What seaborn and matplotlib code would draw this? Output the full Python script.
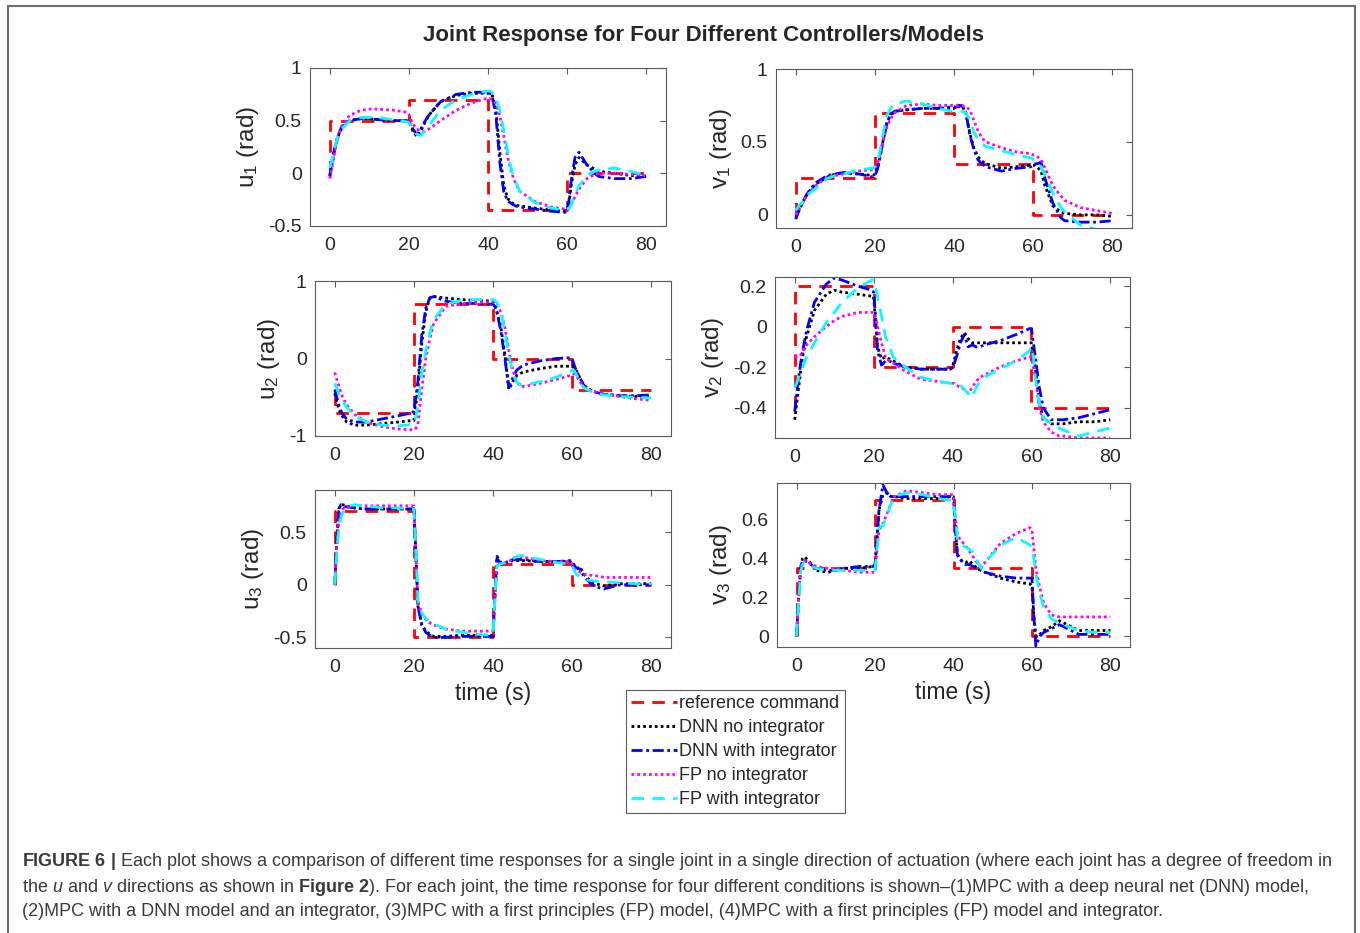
import numpy as np
import pandas as pd
import matplotlib
matplotlib.use("Agg")
import matplotlib.pyplot as plt
from matplotlib.lines import Line2D
import seaborn as sns

sns.set_style("white")
plt.rcParams['font.family'] = ['Liberation Sans', 'DejaVu Sans']
plt.rcParams['mathtext.fontset'] = 'custom'
plt.rcParams['mathtext.rm'] = 'Liberation Sans'
plt.rcParams['mathtext.it'] = 'Liberation Sans:italic'
plt.rcParams['mathtext.bf'] = 'Liberation Sans:bold'
plt.rcParams['axes.unicode_minus'] = False

# ---------------- data ----------------
T = [0, 0.5, 1, 1.5, 2, 3, 5, 8, 10, 12, 16, 19.5, 20, 20.5, 21, 22, 23, 24, 25, 28,
     32, 36, 39.5, 40, 40.5, 41, 42, 43, 44, 45, 46, 47, 48, 52, 56, 59.5, 60, 60.5,
     61, 62, 63, 65, 67, 68, 72, 76, 80]

ref_t = [0, 0, 20, 40, 60, 80]
u1_ref = [0.0, 0.5, 0.7, -0.35, 0.0, 0.0]
v1_ref = [0.0, 0.25, 0.7, 0.35, 0.0, 0.0]
u2_ref = [-0.45, -0.7, 0.7, 0.0, -0.4, -0.4]
v2_ref = [-0.4, 0.2, -0.2, 0.0, -0.4, -0.4]
u3_ref = [0.0, 0.7, -0.5, 0.2, 0.0, 0.0]
v3_ref = [0.0, 0.35, 0.7, 0.35, 0.0, 0.0]

u1_dnn = [-0.03, 0.08, 0.18, 0.27, 0.34, 0.43, 0.5, 0.52, 0.52, 0.51, 0.5, 0.5, 0.49, 0.45, 0.4, 0.35, 0.4, 0.48, 0.55, 0.68, 0.74, 0.76, 0.76, 0.76, 0.76, 0.75, 0.6, 0.2, -0.12, -0.24, -0.28, -0.3, -0.31, -0.33, -0.35, -0.36, -0.36, -0.28, -0.12, 0.08, 0.15, 0.08, 0.04, 0.02, 0.0, -0.02, -0.03]
u1_dnn_i = [-0.02, 0.1, 0.2, 0.28, 0.35, 0.44, 0.5, 0.52, 0.52, 0.51, 0.5, 0.5, 0.49, 0.46, 0.42, 0.37, 0.42, 0.49, 0.55, 0.68, 0.75, 0.77, 0.77, 0.77, 0.76, 0.74, 0.55, 0.1, -0.18, -0.26, -0.29, -0.31, -0.32, -0.34, -0.36, -0.37, -0.36, -0.25, -0.08, 0.15, 0.2, 0.08, 0.0, -0.03, -0.05, -0.05, -0.03]
u1_fp = [-0.05, 0.05, 0.15, 0.25, 0.33, 0.45, 0.55, 0.6, 0.61, 0.61, 0.6, 0.58, 0.56, 0.51, 0.47, 0.42, 0.4, 0.4, 0.42, 0.5, 0.6, 0.67, 0.71, 0.71, 0.71, 0.7, 0.66, 0.55, 0.35, 0.15, 0.0, -0.1, -0.17, -0.27, -0.32, -0.34, -0.34, -0.33, -0.3, -0.22, -0.15, -0.05, -0.01, 0.0, 0.0, -0.01, -0.02]
u1_fp_i = [0.05, 0.12, 0.2, 0.28, 0.35, 0.42, 0.5, 0.53, 0.53, 0.53, 0.51, 0.49, 0.48, 0.45, 0.42, 0.37, 0.36, 0.4, 0.45, 0.6, 0.7, 0.75, 0.78, 0.78, 0.78, 0.77, 0.72, 0.6, 0.4, 0.2, 0.02, -0.08, -0.17, -0.28, -0.33, -0.35, -0.34, -0.33, -0.3, -0.2, -0.12, -0.02, 0.02, 0.03, 0.05, 0.02, -0.02]

v1_dnn = [-0.02, 0.01, 0.04, 0.07, 0.1, 0.15, 0.21, 0.26, 0.28, 0.29, 0.28, 0.27, 0.28, 0.31, 0.36, 0.5, 0.62, 0.69, 0.71, 0.72, 0.73, 0.73, 0.73, 0.73, 0.74, 0.75, 0.75, 0.7, 0.56, 0.46, 0.4, 0.37, 0.35, 0.32, 0.33, 0.34, 0.34, 0.34, 0.33, 0.3, 0.2, 0.06, 0.02, 0.01, 0.0, 0.0, -0.01]
v1_dnn_i = [-0.03, 0.01, 0.05, 0.08, 0.1, 0.15, 0.22, 0.27, 0.28, 0.29, 0.28, 0.26, 0.27, 0.3, 0.35, 0.5, 0.63, 0.69, 0.71, 0.72, 0.73, 0.73, 0.74, 0.74, 0.74, 0.74, 0.75, 0.7, 0.55, 0.45, 0.38, 0.35, 0.33, 0.3, 0.32, 0.33, 0.34, 0.35, 0.35, 0.36, 0.25, 0.08, -0.02, -0.04, -0.05, -0.05, -0.04]
v1_fp = [0.0, 0.03, 0.05, 0.07, 0.1, 0.14, 0.2, 0.26, 0.27, 0.28, 0.3, 0.31, 0.32, 0.34, 0.38, 0.5, 0.6, 0.66, 0.7, 0.75, 0.76, 0.75, 0.75, 0.75, 0.75, 0.75, 0.75, 0.74, 0.72, 0.65, 0.58, 0.53, 0.5, 0.46, 0.43, 0.42, 0.41, 0.41, 0.4, 0.38, 0.32, 0.2, 0.13, 0.1, 0.05, 0.03, 0.01]
v1_fp_i = [0.03, 0.05, 0.07, 0.08, 0.1, 0.14, 0.18, 0.25, 0.27, 0.28, 0.31, 0.32, 0.33, 0.36, 0.4, 0.55, 0.68, 0.73, 0.76, 0.78, 0.76, 0.73, 0.71, 0.71, 0.71, 0.71, 0.71, 0.7, 0.65, 0.57, 0.52, 0.49, 0.47, 0.44, 0.41, 0.39, 0.38, 0.38, 0.37, 0.33, 0.27, 0.15, 0.05, 0.02, -0.07, -0.1, -0.12]

u2_dnn = [-0.45, -0.55, -0.65, -0.71, -0.75, -0.82, -0.86, -0.86, -0.85, -0.84, -0.82, -0.8, -0.8, -0.6, -0.4, 0.2, 0.6, 0.78, 0.8, 0.78, 0.76, 0.75, 0.74, 0.73, 0.68, 0.6, 0.4, 0.05, -0.4, -0.3, -0.22, -0.19, -0.17, -0.13, -0.1, -0.1, -0.1, -0.12, -0.15, -0.25, -0.35, -0.42, -0.45, -0.46, -0.48, -0.49, -0.48]
u2_dnn_i = [-0.4, -0.5, -0.6, -0.67, -0.72, -0.78, -0.82, -0.82, -0.8, -0.78, -0.74, -0.7, -0.68, -0.5, -0.3, 0.3, 0.65, 0.78, 0.8, 0.74, 0.71, 0.71, 0.7, 0.7, 0.67, 0.6, 0.35, 0.0, -0.37, -0.25, -0.15, -0.11, -0.08, -0.03, 0.0, 0.01, 0.0, -0.08, -0.15, -0.25, -0.35, -0.42, -0.45, -0.46, -0.48, -0.48, -0.47]
u2_fp = [-0.18, -0.27, -0.35, -0.43, -0.5, -0.6, -0.72, -0.82, -0.85, -0.88, -0.91, -0.92, -0.92, -0.9, -0.85, -0.4, 0.0, 0.25, 0.45, 0.67, 0.71, 0.72, 0.73, 0.73, 0.72, 0.7, 0.6, 0.4, 0.1, -0.15, -0.3, -0.36, -0.36, -0.32, -0.27, -0.22, -0.2, -0.2, -0.22, -0.3, -0.37, -0.42, -0.45, -0.46, -0.49, -0.52, -0.54]
u2_fp_i = [-0.32, -0.38, -0.45, -0.5, -0.55, -0.63, -0.74, -0.82, -0.84, -0.86, -0.87, -0.85, -0.84, -0.75, -0.6, -0.2, 0.1, 0.32, 0.5, 0.7, 0.75, 0.76, 0.76, 0.76, 0.75, 0.72, 0.6, 0.35, 0.05, -0.2, -0.3, -0.34, -0.34, -0.3, -0.24, -0.17, -0.15, -0.16, -0.2, -0.3, -0.38, -0.43, -0.46, -0.47, -0.49, -0.5, -0.51]

v2_dnn = [-0.46, -0.38, -0.3, -0.22, -0.15, -0.05, 0.08, 0.16, 0.18, 0.17, 0.16, 0.15, 0.15, 0.02, -0.1, -0.16, -0.15, -0.16, -0.17, -0.2, -0.21, -0.21, -0.21, -0.2, -0.16, -0.12, -0.06, -0.03, -0.06, -0.08, -0.08, -0.08, -0.08, -0.08, -0.08, -0.08, -0.08, -0.14, -0.2, -0.38, -0.45, -0.48, -0.48, -0.48, -0.47, -0.47, -0.46]
v2_dnn_i = [-0.42, -0.33, -0.25, -0.18, -0.12, -0.02, 0.12, 0.21, 0.24, 0.23, 0.2, 0.18, 0.17, 0.05, -0.12, -0.19, -0.17, -0.17, -0.18, -0.2, -0.21, -0.21, -0.21, -0.2, -0.18, -0.15, -0.08, -0.04, -0.1, -0.09, -0.1, -0.1, -0.09, -0.07, -0.04, -0.01, -0.01, -0.08, -0.15, -0.3, -0.4, -0.46, -0.46, -0.46, -0.45, -0.43, -0.41]
v2_fp = [-0.15, -0.15, -0.15, -0.14, -0.12, -0.09, -0.05, 0.0, 0.03, 0.05, 0.07, 0.07, 0.07, 0.04, 0.0, -0.08, -0.15, -0.17, -0.18, -0.22, -0.26, -0.27, -0.28, -0.28, -0.28, -0.29, -0.3, -0.31, -0.33, -0.3, -0.27, -0.25, -0.24, -0.2, -0.17, -0.15, -0.15, -0.2, -0.25, -0.4, -0.47, -0.52, -0.54, -0.54, -0.55, -0.55, -0.55]
v2_fp_i = [-0.3, -0.28, -0.25, -0.22, -0.2, -0.15, -0.08, 0.02, 0.07, 0.12, 0.19, 0.23, 0.23, 0.19, 0.15, 0.05, -0.05, -0.1, -0.15, -0.2, -0.25, -0.27, -0.28, -0.28, -0.28, -0.28, -0.29, -0.31, -0.33, -0.35, -0.3, -0.27, -0.25, -0.21, -0.17, -0.12, -0.1, -0.15, -0.25, -0.38, -0.45, -0.48, -0.5, -0.51, -0.54, -0.52, -0.5]

u3_dnn = [0.0, 0.42, 0.72, 0.76, 0.76, 0.75, 0.73, 0.72, 0.72, 0.72, 0.72, 0.72, 0.72, 0.3, -0.2, -0.38, -0.44, -0.47, -0.49, -0.49, -0.48, -0.48, -0.48, -0.48, -0.1, 0.27, 0.21, 0.21, 0.22, 0.23, 0.23, 0.23, 0.23, 0.22, 0.22, 0.22, 0.21, 0.18, 0.15, 0.17, 0.1, 0.02, 0.0, -0.01, 0.01, 0.01, 0.01]
u3_dnn_i = [0.0, 0.4, 0.7, 0.76, 0.75, 0.74, 0.73, 0.72, 0.72, 0.72, 0.72, 0.72, 0.72, 0.3, -0.2, -0.38, -0.45, -0.48, -0.5, -0.5, -0.49, -0.49, -0.49, -0.49, -0.1, 0.25, 0.2, 0.21, 0.22, 0.24, 0.24, 0.24, 0.24, 0.22, 0.22, 0.23, 0.22, 0.19, 0.16, 0.15, 0.08, 0.0, -0.03, -0.04, 0.0, 0.0, 0.0]
u3_fp = [0.0, 0.35, 0.6, 0.68, 0.72, 0.74, 0.75, 0.75, 0.75, 0.75, 0.75, 0.75, 0.75, 0.3, -0.15, -0.28, -0.33, -0.36, -0.38, -0.42, -0.44, -0.44, -0.44, -0.44, -0.1, 0.2, 0.2, 0.21, 0.22, 0.25, 0.26, 0.27, 0.26, 0.23, 0.22, 0.22, 0.2, 0.16, 0.14, 0.12, 0.1, 0.09, 0.08, 0.07, 0.07, 0.07, 0.07]
u3_fp_i = [0.0, 0.3, 0.55, 0.63, 0.68, 0.74, 0.76, 0.74, 0.74, 0.73, 0.73, 0.72, 0.72, 0.3, -0.15, -0.27, -0.32, -0.35, -0.37, -0.42, -0.45, -0.47, -0.48, -0.48, -0.1, 0.18, 0.2, 0.21, 0.23, 0.25, 0.27, 0.28, 0.27, 0.24, 0.21, 0.2, 0.18, 0.14, 0.1, 0.08, 0.05, 0.04, 0.03, 0.03, 0.02, 0.01, 0.01]

v3_dnn = [0.0, 0.2, 0.35, 0.4, 0.41, 0.39, 0.34, 0.33, 0.34, 0.35, 0.35, 0.36, 0.36, 0.5, 0.65, 0.73, 0.74, 0.72, 0.72, 0.71, 0.71, 0.71, 0.72, 0.72, 0.55, 0.42, 0.39, 0.38, 0.39, 0.37, 0.35, 0.34, 0.33, 0.3, 0.28, 0.27, 0.26, 0.1, 0.0, 0.01, 0.03, 0.05, 0.08, 0.07, 0.03, 0.03, 0.03]
v3_dnn_i = [0.0, 0.2, 0.35, 0.39, 0.39, 0.38, 0.35, 0.34, 0.34, 0.35, 0.36, 0.36, 0.37, 0.5, 0.65, 0.78, 0.74, 0.72, 0.72, 0.72, 0.72, 0.72, 0.72, 0.72, 0.55, 0.42, 0.39, 0.37, 0.37, 0.36, 0.35, 0.34, 0.33, 0.31, 0.3, 0.3, 0.3, 0.1, -0.05, 0.0, 0.02, 0.04, 0.06, 0.05, 0.01, 0.01, 0.01]
v3_fp = [0.0, 0.2, 0.35, 0.38, 0.39, 0.38, 0.36, 0.35, 0.35, 0.34, 0.33, 0.33, 0.33, 0.45, 0.55, 0.58, 0.63, 0.68, 0.72, 0.75, 0.74, 0.73, 0.73, 0.73, 0.6, 0.52, 0.49, 0.47, 0.44, 0.41, 0.38, 0.36, 0.38, 0.48, 0.53, 0.56, 0.55, 0.45, 0.35, 0.25, 0.17, 0.11, 0.1, 0.1, 0.1, 0.1, 0.1]
v3_fp_i = [0.0, 0.18, 0.33, 0.37, 0.38, 0.37, 0.35, 0.34, 0.34, 0.34, 0.34, 0.34, 0.34, 0.45, 0.56, 0.57, 0.62, 0.68, 0.72, 0.74, 0.73, 0.71, 0.7, 0.7, 0.6, 0.5, 0.47, 0.46, 0.45, 0.43, 0.39, 0.35, 0.38, 0.47, 0.51, 0.47, 0.46, 0.4, 0.32, 0.22, 0.15, 0.09, 0.07, 0.06, 0.03, 0.02, 0.02]

series_labels = ["reference command", "DNN no integrator", "DNN with integrator",
                 "FP no integrator", "FP with integrator"]
x_ticks = [0, 20, 40, 60, 80]
x_tick_labels = ["0", "20", "40", "60", "80"]

# ---------------- styles ----------------
colors = ["#ff0000", "#000000", "#0000ff", "#ff00ff", "#00ffff"]
styles = [(0, (4.5, 3.0)), (0, (1.0, 1.1)), (0, (4.0, 1.3, 1.0, 1.3)),
          (0, (1.0, 1.1)), (0, (4.5, 3.0))]
LW = 2.0

panels = [
    # name, ylabel, ref, dnn, dnn_i, fp, fp_i, ylim, yticks, ylabels, rect(px: l, t, r, b)
    ("u1", r"u$_1$ (rad)", u1_ref, u1_dnn, u1_dnn_i, u1_fp, u1_fp_i, (-0.5, 1.0),
     [-0.5, 0, 0.5, 1], ["-0.5", "0", "0.5", "1"], (310, 68, 666, 226)),
    ("v1", r"v$_1$ (rad)", v1_ref, v1_dnn, v1_dnn_i, v1_fp, v1_fp_i, (-0.09, 1.0),
     [0, 0.5, 1], ["0", "0.5", "1"], (776, 69, 1132, 228)),
    ("u2", r"u$_2$ (rad)", u2_ref, u2_dnn, u2_dnn_i, u2_fp, u2_fp_i, (-1.0, 1.0),
     [-1, 0, 1], ["-1", "0", "1"], (315, 281, 671, 436)),
    ("v2", r"v$_2$ (rad)", v2_ref, v2_dnn, v2_dnn_i, v2_fp, v2_fp_i, (-0.55, 0.245),
     [-0.4, -0.2, 0, 0.2], ["-0.4", "-0.2", "0", "0.2"], (775, 277, 1130, 438)),
    ("u3", r"u$_3$ (rad)", u3_ref, u3_dnn, u3_dnn_i, u3_fp, u3_fp_i, (-0.6, 0.9),
     [-0.5, 0, 0.5], ["-0.5", "0", "0.5"], (315, 490, 671, 648)),
    ("v3", r"v$_3$ (rad)", v3_ref, v3_dnn, v3_dnn_i, v3_fp, v3_fp_i, (-0.055, 0.79),
     [0, 0.2, 0.4, 0.6], ["0", "0.2", "0.4", "0.6"], (777, 483, 1130, 647)),
]

W, H = 1360, 933
fig = plt.figure(figsize=(W / 100, H / 100), dpi=100)
fig.patch.set_facecolor("white")

axis_col = "#5a5a5a"
text_col = "#262626"

for name, ylab, ref, d0, d1, f0, f1, ylim, yt, ytl, (l, t, r, b) in panels:
    ax = fig.add_axes([l / W, 1 - b / H, (r - l) / W, (b - t) / H])
    sns.lineplot(x=ref_t, y=ref, ax=ax, color=colors[0], lw=LW, linestyle=styles[0],
                 drawstyle="steps-post", estimator=None, sort=False, legend=False)
    for vals, c, s in zip([d0, d1, f0, f1], colors[1:], styles[1:]):
        sns.lineplot(x=T, y=vals, ax=ax, color=c, lw=LW, linestyle=s,
                     estimator=None, sort=False, legend=False)
    ax.set_xlim(-5, 85)
    ax.set_ylim(*ylim)
    ax.set_xticks(x_ticks)
    ax.set_xticklabels(x_tick_labels)
    ax.set_yticks(yt)
    ax.set_yticklabels(ytl)
    ax.tick_params(direction="in", length=4, width=0.8, colors=axis_col,
                   labelcolor=text_col, labelsize=14, top=True, right=True)
    ax.tick_params(axis="x", pad=8)
    ax.tick_params(axis="y", pad=6)
    for sp in ax.spines.values():
        sp.set_visible(True)
        sp.set_color(axis_col)
        sp.set_linewidth(0.8)
    ax.set_ylabel(ylab, fontsize=17.5, color=text_col, labelpad=5)
    ax.set_xlabel("")
    if name in ("u3", "v3"):
        ax.set_xlabel("time (s)", fontsize=16.5, color=text_col, labelpad=4)

fig.text(703 / W, 1 - 35 / H, "Joint Response for Four Different Controllers/Models",
         ha="center", va="center", fontsize=16, fontweight="bold", color=text_col)

handles = [Line2D([], [], color=c, lw=LW, linestyle=s) for c, s in zip(colors, styles)]
leg = fig.legend(handles, series_labels, loc="upper left",
                 bbox_to_anchor=(626 / W, 1 - 690 / H), fontsize=13,
                 frameon=True, fancybox=False, borderaxespad=0, borderpad=0.3,
                 handlelength=2.5, handletextpad=0.15, labelspacing=0.38)
leg.get_frame().set_edgecolor("#333333")
leg.get_frame().set_linewidth(0.8)
for txt in leg.get_texts():
    txt.set_color(text_col)

cap_col = "#3a3a3a"
cap_lines = [
    r"$\bf{FIGURE\ 6\ |}$ Each plot shows a comparison of different time responses for a single joint in a single direction of actuation (where each joint has a degree of freedom in",
    r"the $\it{u}$ and $\it{v}$ directions as shown in $\bf{Figure\ 2}$). For each joint, the time response for four different conditions is shown–(1)MPC with a deep neural net (DNN) model,",
    r"(2)MPC with a DNN model and an integrator, (3)MPC with a first principles (FP) model, (4)MPC with a first principles (FP) model and integrator.",
]
for i, s in enumerate(cap_lines):
    fig.text(22 / W, 1 - (862 + 25 * i) / H, s, ha="left", va="center",
             fontsize=13, color=cap_col)

# outer frame (left, top, right)
frame_col = "#707070"
fig.add_artist(Line2D([8 / W, 8 / W], [0, 1 - 6 / H], color=frame_col, lw=1.5,
                      transform=fig.transFigure))
fig.add_artist(Line2D([8 / W, 1355 / W], [1 - 6 / H, 1 - 6 / H], color=frame_col, lw=1.5,
                      transform=fig.transFigure))
fig.add_artist(Line2D([1355 / W, 1355 / W], [0, 1 - 6 / H], color=frame_col, lw=1.5,
                      transform=fig.transFigure))

fig.savefig("out.png", dpi=100, facecolor="white")
